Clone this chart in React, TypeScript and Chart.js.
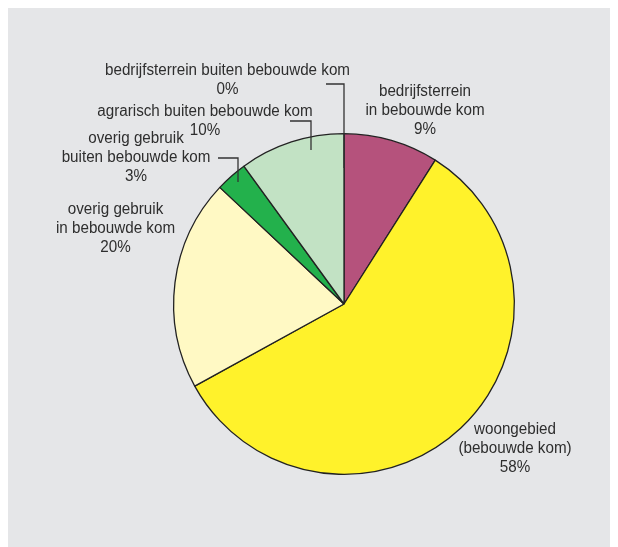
import React, { useEffect, useRef } from "react";
import { Chart, registerables } from "chart.js";

Chart.register(...registerables);

const categories = [
  "bedrijfsterrein in bebouwde kom",
  "woongebied (bebouwde kom)",
  "overig gebruik in bebouwde kom",
  "overig gebruik buiten bebouwde kom",
  "agrarisch buiten bebouwde kom",
  "bedrijfsterrein buiten bebouwde kom",
];
const shares = [9, 58, 20, 3, 10, 0];
const colors = ["#B5527C", "#FFF22B", "#FFF9C4", "#23B14C", "#C2E2C4", "#6E2E4A"];
const labelLines = [
  ["bedrijfsterrein", "in bebouwde kom", "9%"],
  ["woongebied", "(bebouwde kom)", "58%"],
  ["overig gebruik", "in bebouwde kom", "20%"],
  ["overig gebruik", "buiten bebouwde kom", "3%"],
  ["agrarisch buiten bebouwde kom", "10%"],
  ["bedrijfsterrein buiten bebouwde kom", "0%"],
];

// label anchor offsets relative to pie centre (layout, not data)
const labelPos = [
  [81, -212],
  [171, 126],
  [-228.5, -94],
  [-208, -165],
  [-139, -192],
  [-116.5, -233],
];
const leaders: number[][][] = [
  [],
  [],
  [],
  [[-126, -146], [-106, -146], [-106, -122]],
  [[-54, -183], [-33, -183], [-33, -154]],
  [[-18, -220], [0, -220], [0, -136]],
];

const W = 610;
const H = 539;

const labelPlugin = {
  id: "pieLabels",
  afterDatasetsDraw(chart: any) {
    const meta = chart.getDatasetMeta(0);
    const arc = meta.data[0];
    const cx = arc.x;
    const cy = arc.y;
    const ctx = chart.ctx;
    ctx.save();
    ctx.strokeStyle = "#333333";
    ctx.lineWidth = 1.3;
    leaders.forEach((pts) => {
      if (!pts.length) return;
      ctx.beginPath();
      pts.forEach((p, i) => {
        if (i === 0) ctx.moveTo(cx + p[0], cy + p[1]);
        else ctx.lineTo(cx + p[0], cy + p[1]);
      });
      ctx.stroke();
    });
    ctx.fillStyle = "#2e2e2e";
    ctx.font = "16px 'Liberation Sans', Arial, sans-serif";
    ctx.textAlign = "center";
    ctx.textBaseline = "middle";
    const sx = 0.95;
    labelLines.forEach((lines, i) => {
      const [dx, dy] = labelPos[i];
      lines.forEach((t, j) => {
        ctx.save();
        ctx.translate(cx + dx, cy + dy + j * 18.6);
        ctx.scale(sx, 1);
        ctx.fillText(t, 0, 0);
        ctx.restore();
      });
    });
    ctx.restore();
  },
};

const bgPlugin = {
  id: "bg",
  beforeDraw(chart: any) {
    const ctx = chart.ctx;
    ctx.save();
    ctx.fillStyle = "#E5E6E8";
    ctx.fillRect(0, 0, chart.width, chart.height);
    ctx.restore();
  },
};

export default function App() {
  const ref = useRef<HTMLCanvasElement>(null);
  useEffect(() => {
    document.documentElement.style.overflow = "hidden";
    document.body.style.overflow = "hidden";
    const chart = new Chart(ref.current!, {
      type: "pie",
      data: {
        labels: categories,
        datasets: [
          {
            data: shares,
            backgroundColor: colors,
            borderColor: "#222222",
            borderWidth: 1.3,
          },
        ],
      },
      options: {
        responsive: false,
        animation: false,
        layout: { padding: { left: 165, top: 125, right: 103, bottom: 72 } },
        plugins: {
          legend: { display: false },
          tooltip: { enabled: false },
        },
      },
      plugins: [bgPlugin, labelPlugin],
    });
    return () => chart.destroy();
  }, []);
  return (
    <div style={{ width: W, height: H }}>
      <canvas ref={ref} width={W} height={H} style={{ display: "block", width: W, height: H }} />
    </div>
  );
}
